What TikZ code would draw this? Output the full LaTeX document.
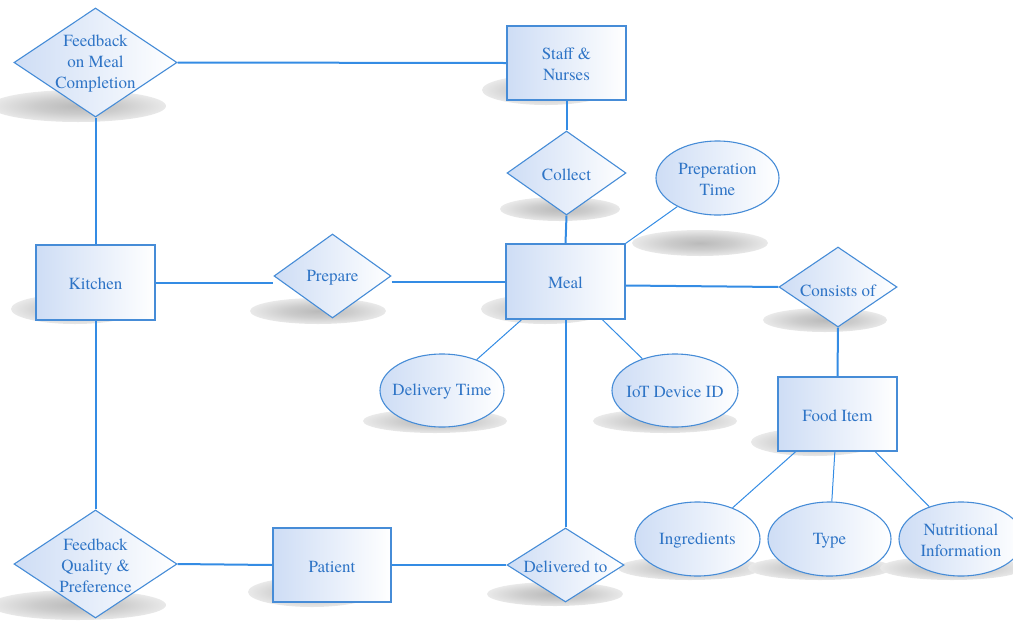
\documentclass[tikz,border=0pt]{standalone}
\usepackage{fontspec}
\newfontfamily\erfont{TeX Gyre Termes}
\usetikzlibrary{shapes.geometric,calc}
\definecolor{txtc}{RGB}{46,116,198}
\definecolor{bordc}{RGB}{70,140,215}
\definecolor{linec}{RGB}{52,140,228}
\definecolor{fillc}{RGB}{206,221,245}
\pgfdeclareradialshading{softshadow}{\pgfpoint{0bp}{0bp}}{color(0bp)=(black!27); color(12bp)=(black!20); color(28bp)=(black!6); color(44bp)=(white); color(50bp)=(white)}
\pgfdeclarelayer{bg}
\pgfsetlayers{bg,main}
\begin{document}
\begin{tikzpicture}[x=1pt,y=-1pt,
  base/.style={draw=bordc, line width=1.1pt, left color=fillc, right color=white, inner sep=0pt},
  ent/.style={base, rectangle, minimum width=119pt, minimum height=74pt},
  rel/.style={base, diamond},
  att/.style={base, ellipse},
  txt/.style={text=txtc, align=center, yshift=-1.5pt, font=\erfont\fontsize{17}{21}\selectfont},
  strong/.style={draw=linec, line width=2pt},
  weak/.style={draw=linec, line width=1pt},
  shd/.style={shading=softshadow}]
\useasboundingbox (0,0) rectangle (1013,622);

% entities
\node[ent] (staff) at (566.5,63) {};
\node[ent, minimum height=75pt] (kitchen) at (95.5,282.5) {};
\node[ent, minimum height=75pt] (meal) at (565.5,281.5) {};
\node[ent] (food) at (837.5,414) {};
\node[ent, minimum width=118pt] (patient) at (332,565) {};

% relationships
\node[rel, minimum width=163pt, minimum height=109pt] (fmc) at (95.5,62.5) {};
\node[rel, minimum width=119pt, minimum height=84pt] (collect) at (566.5,173) {};
\node[rel, minimum width=117pt, minimum height=84pt] (prepare) at (332.5,276) {};
\node[rel, minimum width=118pt, minimum height=80pt] (consists) at (838,287) {};
\node[rel, minimum width=163pt, minimum height=108pt] (fqp) at (95.5,564) {};
\node[rel, minimum width=117pt, minimum height=74pt] (delto) at (565.5,565) {};

% attributes
\node[att, minimum width=123pt, minimum height=74pt] (prept) at (717.5,178) {};
\node[att, minimum width=124pt, minimum height=73pt] (delt) at (442,390.5) {};
\node[att, minimum width=126pt, minimum height=73pt] (iot) at (675,390.5) {};
\node[att, minimum width=125pt, minimum height=74pt] (ingr) at (697.5,539) {};
\node[att, minimum width=123pt, minimum height=74pt] (type) at (829.5,539) {};
\node[att, minimum width=124pt, minimum height=74pt] (nutr) at (961,539) {};

% texts
\node[txt] (stafft) at (staff) {Staff \&\\Nurses};
\node[txt] (kitchent) at (kitchen) {Kitchen};
\node[txt] (mealt) at (meal) {Meal};
\node[txt] (foodt) at (food) {Food Item};
\node[txt] (patientt) at (patient) {Patient};
\node[txt] (fmct) at (fmc) {Feedback\\on Meal\\Completion};
\node[txt] (collectt) at (collect) {Collect};
\node[txt] (preparet) at (prepare) {Prepare};
\node[txt] (consistst) at ($(consists)+(0,2)$) {Consists of};
\node[txt] (fqpt) at (fqp) {Feedback\\Quality \&\\Preference};
\node[txt] (deltot) at (delto) {Delivered to};
\node[txt] (preptt) at (prept) {Preperation\\Time};
\node[txt] (deltt) at (delt) {Delivery Time};
\node[txt] (iott) at (iot) {IoT Device ID};
\node[txt] (ingrt) at (ingr) {Ingredients};
\node[txt] (typet) at (type) {Type};
\node[txt] (nutrt) at (nutr) {Nutritional\\Information};

\begin{pgfonlayer}{bg}
  % shadows
  \shade[shd] (78,106) ellipse [x radius=88pt, y radius=16pt];
  \shade[shd] (546,90) ellipse [x radius=64pt, y radius=15pt];
  \shade[shd] (560,209) ellipse [x radius=60pt, y radius=12pt];
  \shade[shd] (700,243) ellipse [x radius=68pt, y radius=13pt];
  \shade[shd] (75,309) ellipse [x radius=64pt, y radius=15pt];
  \shade[shd] (318,311) ellipse [x radius=68pt, y radius=13pt];
  \shade[shd] (545,309) ellipse [x radius=64pt, y radius=15pt];
  \shade[shd] (825,320) ellipse [x radius=62pt, y radius=12pt];
  \shade[shd] (435,421) ellipse [x radius=72pt, y radius=12pt];
  \shade[shd] (665,421) ellipse [x radius=72pt, y radius=12pt];
  \shade[shd] (815,442) ellipse [x radius=64pt, y radius=14pt];
  \shade[shd] (690,568) ellipse [x radius=72pt, y radius=12pt];
  \shade[shd] (820,568) ellipse [x radius=72pt, y radius=12pt];
  \shade[shd] (952,568) ellipse [x radius=72pt, y radius=12pt];
  \shade[shd] (312,592) ellipse [x radius=64pt, y radius=15pt];
  \shade[shd] (555,594) ellipse [x radius=68pt, y radius=12pt];
  \shade[shd] (78,605) ellipse [x radius=88pt, y radius=15pt];

  % strong connectors
  \draw[strong] (fmc.east) -- (staff.west);
  \draw[strong] (fmc.south) -- (kitchen.north);
  \draw[strong] (staff.south) -- (collect.north);
  \draw[strong] (collect.south) -- (meal.north);
  \draw[strong] (kitchen.east) -- (kitchen.east -| prepare.west);
  \draw[strong] (prepare.east |- meal.west) -- (meal.west);
  \draw[strong] ($(meal.east)+(0,4)$) -- (consists.west);
  \draw[strong] (consists.south) -- (food.north);
  \draw[strong] (meal.south) -- (delto.north);
  \draw[strong] (kitchen.south) -- (fqp.north);
  \draw[strong] (fqp.east) -- (patient.west);
  \draw[strong] (patient.east) -- (delto.west);

  % weak connectors (attributes)
  \draw[weak] (meal.north east) -- (prept);
  \draw[weak] (meal.221) -- (delt);
  \draw[weak] (meal.314) -- (iot);
  \draw[weak] (food.222) -- (ingr);
  \draw[weak] (food.266) -- (type);
  \draw[weak] (food.315) -- (nutr);
\end{pgfonlayer}
\end{tikzpicture}
\end{document}
